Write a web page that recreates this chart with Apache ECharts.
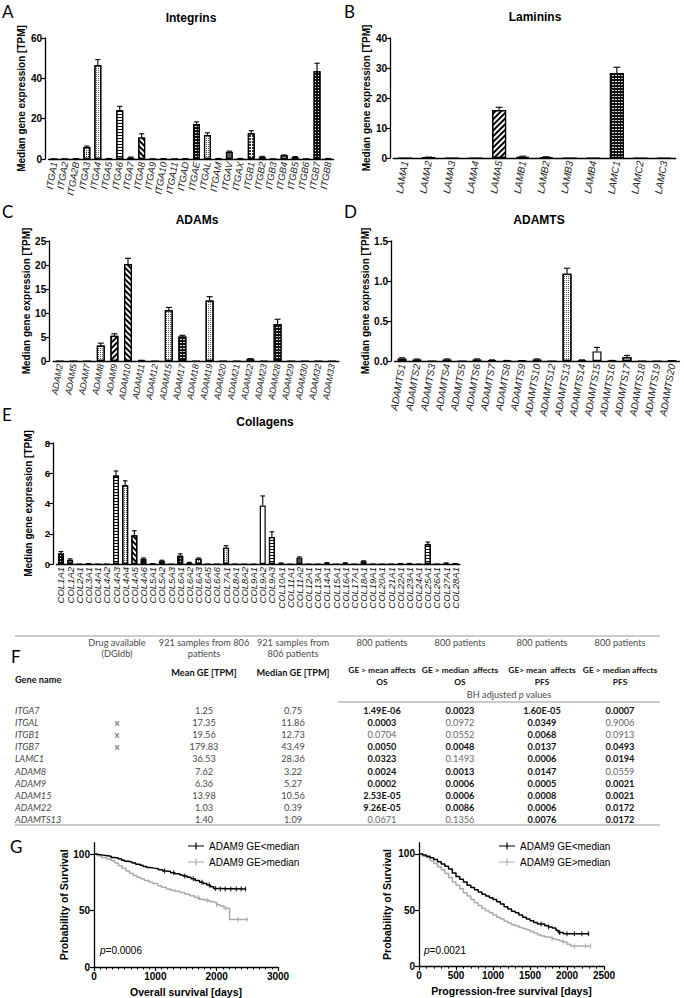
<!DOCTYPE html>
<html><head><meta charset="utf-8">
<script src="https://cdn.jsdelivr.net/npm/echarts@6/dist/echarts.min.js"></script>
<style>html,body{margin:0;padding:0;background:#fff}#c{width:684px;height:998px}</style>
</head><body><div id="c"></div>
<script>
// ---------- DATA ----------
const catsA = ['ITGA1','ITGA2','ITGA2B','ITGA3','ITGA4','ITGA5','ITGA6','ITGA7','ITGA8','ITGA9','ITGA10','ITGA11','ITGAD','ITGAE','ITGAL','ITGAM','ITGAV','ITGAX','ITGB1','ITGB2','ITGB3','ITGB4','ITGB5','ITGB6','ITGB7','ITGB8'];
const valsA = [0.05,0.05,0.15,5.9,46.5,0.2,24.2,0.75,10.7,0.05,0.15,0.05,0.1,17.3,11.86,0.2,3.6,0.2,12.73,1.1,0.05,1.8,1.0,0.05,43.49,0.2];
const errsA = [0,0,0.05,0.5,2.8,0.05,1.9,0.2,1.8,0,0.05,0,0.05,1.1,1.1,0.05,0.3,0.05,1.3,0.2,0,0.2,0.2,0,4.0,0.05];

const catsB = ['LAMA1','LAMA2','LAMA3','LAMA4','LAMA5','LAMB1','LAMB2','LAMB3','LAMB4','LAMC1','LAMC2','LAMC3'];
const valsB = [0,0.2,0,0,16.0,0.4,0.3,0,0,28.36,0,0];
const errsB = [0,0.1,0,0,0.9,0.2,0.1,0,0,1.9,0,0];

const catsC = ['ADAM2','ADAM5','ADAM7','ADAM8','ADAM9','ADAM10','ADAM11','ADAM12','ADAM15','ADAM17','ADAM18','ADAM19','ADAM20','ADAM21','ADAM22','ADAM23','ADAM28','ADAM29','ADAM30','ADAM32','ADAM33'];
const valsC = [0,0,0,3.22,5.27,20.2,0.1,0,10.56,5.1,0,12.6,0,0,0.39,0,7.7,0,0,0,0];
const errsC = [0,0,0,0.5,0.4,1.2,0.05,0,0.6,0.25,0,0.8,0,0,0.1,0,1.0,0,0,0,0];

const catsD = ['ADAMTS1','ADAMTS2','ADAMTS3','ADAMTS4','ADAMTS5','ADAMTS6','ADAMTS7','ADAMTS8','ADAMTS9','ADAMTS10','ADAMTS12','ADAMTS13','ADAMTS14','ADAMTS15','ADAMTS16','ADAMTS17','ADAMTS18','ADAMTS19','ADAMTS20'];
const valsD = [0.03,0.02,0,0.02,0,0.02,0.01,0.005,0.003,0.02,0,1.09,0.01,0.12,0.005,0.05,0,0,0.003];
const errsD = [0.01,0.005,0,0.006,0,0.006,0.004,0.002,0.002,0.006,0,0.07,0.004,0.05,0.002,0.02,0,0,0.001];

const catsE = ['COL1A1','COL1A2','COL2A1','COL3A1','COL4A1','COL4A2','COL4A3','COL4A4','COL4A5','COL4A6','COL5A1','COL5A2','COL5A3','COL6A1','COL6A2','COL6A3','COL6A5','COL6A6','COL7A1','COL8A1','COL8A2','COL9A1','COL9A2','COL9A3','COL10A1','COL11A1','COL11A2','COL12A1','COL13A1','COL14A1','COL15A1','COL16A1','COL17A1','COL18A1','COL19A1','COL20A1','COL21A1','COL22A1','COL23A1','COL24A1','COL25A1','COL26A1','COL27A1','COL28A1'];
const valsE = [0.7,0.28,0,0.02,0,0,5.85,5.2,1.9,0.35,0.02,0.22,0,0.55,0.08,0.35,0,0,1.08,0,0,0,3.87,1.78,0.05,0,0.42,0,0,0.07,0,0.06,0,0.18,0,0,0,0.02,0.03,0,1.3,0,0.05,0.02];
const errsE = [0.12,0.06,0,0.01,0,0,0.3,0.3,0.3,0.05,0.01,0.03,0,0.12,0.03,0.05,0,0,0.13,0,0,0,0.63,0.35,0.02,0,0.05,0,0,0.02,0,0.02,0,0.03,0,0,0,0.01,0.01,0,0.15,0,0.02,0.01];

// Kaplan-Meier curves [days, % survival]
const osLow = [[0,100],[30,99.5],[80,99],[150,98.5],[220,98],[280,97],[330,96.5],[400,95.5],[450,94.5],[500,93.5],[560,93],[620,92],[680,91],[750,90],[800,89],[860,88],[920,87.5],[980,87],[1050,86],[1120,85],[1180,84.5],[1250,83.5],[1320,82.5],[1400,81.5],[1450,80.5],[1520,79.5],[1580,78],[1650,76.5],[1720,75],[1780,74],[1840,72.5],[1900,71],[1950,69.5],[2000,69],[2480,69]];
const osHigh = [[0,100],[50,98.5],[120,97],[200,95.5],[280,94],[340,92],[400,89.5],[460,87.5],[520,85],[580,83],[640,81],[700,79.5],[760,78],[820,76.5],[900,75],[960,74],[1040,72],[1100,70.5],[1180,69],[1250,68],[1320,67],[1400,66],[1480,64.5],[1560,63],[1640,61.5],[1720,60],[1800,59],[1880,58],[1960,57],[2000,55],[2050,54],[2120,52],[2210,42],[2510,42]];
const pfsLow = [[0,100],[50,99],[100,98],[150,96.5],[200,95],[250,93],[300,91],[350,89],[400,86.5],[450,83],[500,80],[550,77.5],[600,75],[650,72],[700,70],[750,68],[800,66],[850,64],[900,62.5],[950,61],[1000,59.5],[1050,57.5],[1100,55.5],[1150,53],[1200,51],[1250,49],[1300,47.5],[1350,45.5],[1400,43.5],[1450,42],[1500,40.5],[1550,39],[1600,37.5],[1700,36],[1750,35],[1800,34],[1850,32],[1880,30],[1950,29],[2300,29]];
const pfsHigh = [[0,100],[50,98],[100,96.5],[150,94],[200,91.5],[250,88.5],[300,86],[350,82.5],[400,79],[450,75],[500,72],[550,69],[600,65.5],[650,62.5],[700,59.5],[750,56.5],[800,54],[850,51.5],[900,49.5],[950,47.5],[1000,45.5],[1050,43.5],[1100,42],[1150,40],[1200,38.5],[1250,37],[1300,36],[1350,34.5],[1400,33.5],[1450,32.5],[1500,31],[1550,29.5],[1600,28],[1650,27],[1700,26],[1750,25.5],[1800,24.5],[1850,23.5],[1900,22.5],[1950,21.5],[2000,19.5],[2050,18],[2320,18]];
const censOsLow = [1150,1300,1480,1620,1760,1880,1980,2060,2140,2230,2320,2400,2470];
const censOsHigh = [1700,1850,2000,2150,2350,2490];
const censPfsLow = [1650,1750,1900,2000,2100,2200,2290];
const censPfsHigh = [1800,1950,2100,2250,2320];
const legendNames = ['ADAM9 GE<median','ADAM9 GE>median'];

// Table
const tGenes = ['ITGA7','ITGAL','ITGB1','ITGB7','LAMC1','ADAM8','ADAM9','ADAM15','ADAM22','ADAMTS13'];
const tDrug = ['','x','x','x','','','','','',''];
const tMean = ['1.25','17.35','19.56','179.83','36.53','7.62','6.36','13.98','1.03','1.40'];
const tMedian = ['0.75','11.86','12.73','43.49','28.36','3.22','5.27','10.56','0.39','1.09'];
const pMeanOS = ['1.49E-06','0.0003','0.0704','0.0050','0.0323','0.0024','0.0002','2.53E-05','9.26E-05','0.0671'];
const pMedianOS = ['0.0023','0.0972','0.0552','0.0048','0.1493','0.0013','0.0006','0.0006','0.0086','0.1356'];
const pMeanPFS = ['1.60E-05','0.0349','0.0068','0.0137','0.0006','0.0147','0.0005','0.0008','0.0006','0.0076'];
const pMedianPFS = ['0.0007','0.9006','0.0913','0.0493','0.0194','0.0559','0.0021','0.0021','0.0172','0.0172'];

// ---------- STYLES ----------
const FONT = '"Liberation Sans", Arial, sans-serif';
const TFONT = 'Lato, "Open Sans", sans-serif';
const PAT = {
  black:{color:'#111'},
  dgrey:{color:'#555'},
  grey:{color:'#999'},
  white:{color:'#fff'},
  dots:{color:'#fff', decal:{symbol:'rect',symbolSize:1,dashArrayX:[1,1],dashArrayY:[1,1],color:'#555'}},
  ddots:{color:'#fff', decal:{symbol:'rect',symbolSize:1,dashArrayX:[1,1],dashArrayY:[1,1],color:'#222'}},
  diag:{color:'#fff', decal:{symbol:'rect',symbolSize:1,dashArrayX:[1,0],dashArrayY:[2,2],rotation:Math.PI/4,color:'#000'}},
  diagR:{color:'#fff', decal:{symbol:'rect',symbolSize:1,dashArrayX:[1,0],dashArrayY:[2,2],rotation:-Math.PI/4,color:'#000'}},
  hlines:{color:'#fff', decal:{symbol:'rect',symbolSize:1,dashArrayX:[1,0],dashArrayY:[1,2],color:'#000'}},
  brick:{color:'#111', decal:{symbol:'rect',symbolSize:1,dashArrayX:[2,1],dashArrayY:[1,2],color:'#ddd'}},
  bdots:{color:'#111', decal:{symbol:'rect',symbolSize:1,dashArrayX:[1,2],dashArrayY:[1,2],color:'#fff'}},
  check:{color:'#fff', decal:{symbol:'rect',symbolSize:1,dashArrayX:[2,1],dashArrayY:[2,1],color:'#333'}}
};
const styleA = {ITGA3:'ddots',ITGA4:'dots',ITGA6:'hlines',ITGA8:'diag',ITGAE:'brick',ITGAL:'dots',ITGAV:'dgrey',ITGB1:'check',ITGB4:'dots',ITGB7:'bdots'};
const styleB = {LAMA5:'diagR',LAMC1:'brick'};
const styleC = {ADAM8:'dots',ADAM9:'diagR',ADAM10:'diag',ADAM15:'dots',ADAM17:'brick',ADAM19:'dots',ADAM28:'brick'};
const styleD = {ADAMTS13:'dots',ADAMTS15:'white',ADAMTS17:'dots'};
const styleE = {COL1A1:'bdots',COL1A2:'dgrey',COL4A3:'hlines',COL4A4:'dots',COL4A5:'diag',COL6A1:'bdots',COL6A3:'ddots',COL7A1:'dots',COL9A2:'white',COL9A3:'hlines',COL11A2:'dgrey',COL25A1:'hlines'};

// ---------- BUILD ----------
const grids=[], xAxes=[], yAxes=[], series=[], graphics=[];

function errRender(capHalf){
  return function(params, api){
    const i=api.value(0), v=api.value(1), e=api.value(2);
    if(!(e>0)) return null;
    const a=api.coord([i,v]), b=api.coord([i,v+e]);
    return {type:'group', children:[
      {type:'line', shape:{x1:a[0],y1:a[1],x2:b[0],y2:b[1]}, style:{stroke:'#000',lineWidth:1.1}},
      {type:'line', shape:{x1:b[0]-capHalf,y1:b[1],x2:b[0]+capHalf,y2:b[1]}, style:{stroke:'#000',lineWidth:1.1}}
    ]};
  };
}

function barPanel(cats, vals, errs, styleMap, cfg){
  const gi = grids.length;
  grids.push({left:cfg.left, top:cfg.top, width:cfg.width, height:cfg.height, containLabel:false, outerBoundsMode:'none'});
  xAxes.push({type:'category', gridIndex:gi, data:cats,
    axisLine:{lineStyle:{color:'#000',width:1.3}},
    axisTick:{alignWithLabel:true,length:3,lineStyle:{color:'#000',width:1}},
    axisLabel:{interval:0, rotate:cfg.rotate, fontFamily:FONT, fontStyle:'italic', fontSize:cfg.lf, color:'#222', margin:3},
    splitLine:{show:false}});
  yAxes.push({type:'value', gridIndex:gi, min:0, max:cfg.max, interval:cfg.interval, offset:cfg.offset,
    name:'Median gene expression [TPM]', nameLocation:'middle', nameGap:cfg.gap,
    nameTextStyle:{fontFamily:FONT,fontSize:10,fontWeight:'bold',color:'#000'},
    axisLine:{show:true,lineStyle:{color:'#000',width:1.3}},
    axisTick:{show:true,length:4,lineStyle:{color:'#000',width:1.2}},
    axisLabel:{fontFamily:FONT,fontSize:cfg.yf||10,fontWeight:'bold',color:'#000',margin:3,formatter:cfg.fmt},
    splitLine:{show:false}});
  series.push({type:'bar', xAxisIndex:gi, yAxisIndex:gi, barWidth:cfg.bw, silent:true,
    data: vals.map((v,i)=>{
      const p = PAT[styleMap[cats[i]]||'black'];
      const it = {color:p.color, borderColor:'#000', borderWidth:1.2};
      if(p.decal) it.decal = p.decal;
      return {value:v, itemStyle:it};
    })});
  series.push({type:'custom', xAxisIndex:gi, yAxisIndex:gi, silent:true, z:5,
    renderItem: errRender(cfg.cap),
    data: cats.map((c,i)=>[i, vals[i], errs[i]])});
}

barPanel(catsA, valsA, errsA, styleA, {left:48.5,top:38,width:285,height:121,max:60,interval:20,offset:3.5,gap:14,bw:7,cap:2.6,rotate:80,lf:9.5});
barPanel(catsB, valsB, errsB, styleB, {left:393.2,top:38,width:282.5,height:120,max:40,interval:10,offset:3.2,gap:15,bw:14,cap:3.5,rotate:80,lf:10});
barPanel(catsC, valsC, errsC, styleC, {left:53.2,top:241,width:285.6,height:120,max:25,interval:5,offset:4,gap:16,bw:8,cap:3,rotate:80,lf:9});
barPanel(catsD, valsD, errsD, styleD, {left:394.5,top:241,width:285,height:120,max:1.5,interval:0.5,offset:3.5,gap:16,bw:9,cap:3,rotate:80,lf:10,fmt:v=>v.toFixed(1)});
barPanel(catsE, valsE, errsE, styleE, {left:56.4,top:443,width:403.5,height:121,max:8,interval:2,offset:3.4,gap:11,bw:6,cap:2.3,rotate:90,lf:9.5,yf:9.5});

function stepAt(curve, d){ let y=curve[0][1]; for(const p of curve){ if(p[0]<=d) y=p[1]; } return y; }

function kmPanel(low, high, cLow, cHigh, cfg){
  const gi = grids.length;
  grids.push({left:cfg.left, top:cfg.top, width:cfg.width, height:cfg.height, containLabel:false, outerBoundsMode:'none'});
  xAxes.push({type:'value', gridIndex:gi, min:0, max:cfg.xmax, interval:cfg.xint,
    name:cfg.xname, nameLocation:'middle', nameGap:19,
    nameTextStyle:{fontFamily:FONT,fontSize:10.5,fontWeight:'bold',color:'#000'},
    axisLine:{show:true,onZero:false,lineStyle:{color:'#000',width:1.3}},
    axisTick:{show:true,length:4,lineStyle:{color:'#000',width:1.2}},
    minorTick:{show:true,splitNumber:cfg.minor,length:2.5,lineStyle:{color:'#000',width:1}},
    axisLabel:{fontFamily:FONT,fontSize:10,fontWeight:'bold',color:'#000',margin:4,formatter:v=>String(v)},
    splitLine:{show:false}, minorSplitLine:{show:false}});
  yAxes.push({type:'value', gridIndex:gi, min:0, max:110,
    name:'Probability of Survival', nameLocation:'middle', nameGap:cfg.gap,
    nameTextStyle:{fontFamily:FONT,fontSize:10.5,fontWeight:'bold',color:'#000'},
    axisLine:{show:true,onZero:false,lineStyle:{color:'#000',width:1.3}},
    axisTick:{show:true,length:4,customValues:[0,50,100],lineStyle:{color:'#000',width:1.2}},
    axisLabel:{fontFamily:FONT,fontSize:10,fontWeight:'bold',color:'#000',margin:4,customValues:[0,50,100]},
    splitLine:{show:false}});
  const cols = ['#000','#aaa'];
  [low, high].forEach((c,k)=>{
    series.push({type:'line', name:legendNames[k], xAxisIndex:gi, yAxisIndex:gi, step:'end', data:c,
      showSymbol:false, symbol:'none', silent:true,
      lineStyle:{color:cols[k],width:1.5}, itemStyle:{color:cols[k]}, z:k?2:3});
  });
  [cLow, cHigh].forEach((cs,k)=>{
    series.push({type:'scatter', xAxisIndex:gi, yAxisIndex:gi, symbol:'rect', symbolSize:[1.2,5], silent:true,
      itemStyle:{color:cols[k]}, z:k?2:3,
      data: cs.map(d=>[d, stepAt(k?high:low, d)])});
  });
}
kmPanel(osLow, osHigh, censOsLow, censOsHigh, {left:94,top:842.7,width:184,height:124.3,xmax:3000,xint:1000,minor:10,gap:25,xname:'Overall survival [days]'});
kmPanel(pfsLow, pfsHigh, censPfsLow, censPfsHigh, {left:419,top:842.7,width:185,height:123.5,xmax:2500,xint:500,minor:5,gap:27,xname:'Progression-free survival [days]'});

// ---------- TEXT ----------
function T(x,y,text,o){
  o=o||{};
  graphics.push({type:'text', x:x, y:y, silent:true, style:Object.assign({
    text:text, fill:o.fill||'#000', fontFamily:o.ff||FONT, fontSize:o.fs||10,
    fontWeight:o.fw||'normal', fontStyle:o.fst||'normal',
    textAlign:o.al||'center', align:o.al||'center',
    textVerticalAlign:'middle', verticalAlign:'middle'}, o.extra||{})});
}
function L(x1,y1,x2,y2,c){ graphics.push({type:'line', silent:true, shape:{x1,y1,x2,y2}, style:{stroke:c||'#999',lineWidth:1}}); }

// panel letters
[['A',2,11],['B',344,11],['C',2,211],['D',344,211],['E',2,414],['F',11,656],['G',10,846]].forEach(a=>T(a[1],a[2],a[0],{ff:TFONT,fs:17,al:'left'}));
// titles
T(191,18,'Integrins',{fs:12,fw:'bold'});
T(535,17,'Laminins',{fs:12,fw:'bold'});
T(197,220,'ADAMs',{fs:12,fw:'bold'});
T(539,220,'ADAMTS',{fs:12,fw:'bold'});
T(265,422,'Collagens',{fs:12,fw:'bold'});
// p values in KM
[[100,950,'0.0006'],[424,950,'0.0021']].forEach(a=>T(a[0],a[1],'{i|p}{n|=' + a[2] + '}',{al:'left',extra:{rich:{i:{fontStyle:'italic',fontFamily:FONT,fontSize:10,fill:'#000'},n:{fontFamily:FONT,fontSize:10,fill:'#000'}}}}));

// table
const GREY='#4a4a4a', TF=9.2, TFB=8.4;
L(15,636,660,636,'#999');
T(117,642,'Drug available',{ff:TFONT,fs:TF,fill:GREY});
T(117,653,'(DGIdb)',{ff:TFONT,fs:TF,fill:GREY});
T(204,642,'921 samples from 806',{ff:TFONT,fs:TF,fill:GREY});
T(204,653,'patients',{ff:TFONT,fs:TF,fill:GREY});
T(293,642,'921 samples from',{ff:TFONT,fs:TF,fill:GREY});
T(293,653,'806 patients',{ff:TFONT,fs:TF,fill:GREY});
const pX=[382,460,542,620];
const pHead1=['GE > mean affects','GE > median  affects','GE> mean  affects','GE > median affects'];
const pHead2=['OS','OS','PFS','PFS'];
pX.forEach((x,k)=>{
  T(x,642,'800 patients',{ff:TFONT,fs:TF,fill:GREY});
  T(x,670,pHead1[k],{ff:TFONT,fs:TFB,fw:'bold',fill:'#111'});
  T(x,682,pHead2[k],{ff:TFONT,fs:TFB,fw:'bold',fill:'#111'});
});
T(204,672,'Mean GE [TPM]',{ff:TFONT,fs:TF,fw:'bold',fill:'#111'});
T(293,672,'Median GE [TPM]',{ff:TFONT,fs:TF,fw:'bold',fill:'#111'});
T(15,679,'Gene name',{ff:TFONT,fs:TF,fw:'bold',fill:'#111',al:'left'});
T(509,694,'{n|BH adjusted }{i|p}{n| values}',{extra:{rich:{n:{fontFamily:TFONT,fontSize:TF,fill:GREY},i:{fontFamily:TFONT,fontSize:TF,fontStyle:'italic',fill:GREY}}}});
L(338,702,660,702,'#999');
const pCols=[pMeanOS,pMedianOS,pMeanPFS,pMedianPFS];
tGenes.forEach((g,i)=>{
  const y=710.5+i*12.1;
  T(15,y,g,{ff:TFONT,fs:TF,fst:'italic',fill:GREY,al:'left'});
  if(tDrug[i]) T(117,y,tDrug[i],{ff:TFONT,fs:TF,fill:GREY});
  T(204,y,tMean[i],{ff:TFONT,fs:TF,fill:GREY});
  T(293,y,tMedian[i],{ff:TFONT,fs:TF,fill:GREY});
  pCols.forEach((col,k)=>{
    const sig=parseFloat(col[i])<0.05;
    T(pX[k],y,col[i],{ff:TFONT,fs:TF,fw:sig?'bold':'normal',fill:sig?'#111':'#666'});
  });
});
L(15,825,660,825,'#999');

const legIcon = 'path://M0,4.4H16V5.6H0Z M7.4,1.5H8.6V8.5H7.4Z';
const legendCommon = {orient:'vertical', itemWidth:16, itemHeight:8, itemGap:6,
  data:legendNames.map(n=>({name:n, icon:legIcon})), selectedMode:false,
  textStyle:{fontFamily:FONT,fontSize:10,color:'#000'}, padding:0};

const chart = echarts.init(document.getElementById('c'), null, {renderer:'svg', width:684, height:998});
chart.setOption({
  animation:false, backgroundColor:'#fff',
  grid:grids, xAxis:xAxes, yAxis:yAxes, series:series,
  legend:[Object.assign({left:188,top:841},legendCommon), Object.assign({left:499,top:841},legendCommon)],
  graphic:{elements:graphics}
});
</script></body></html>
